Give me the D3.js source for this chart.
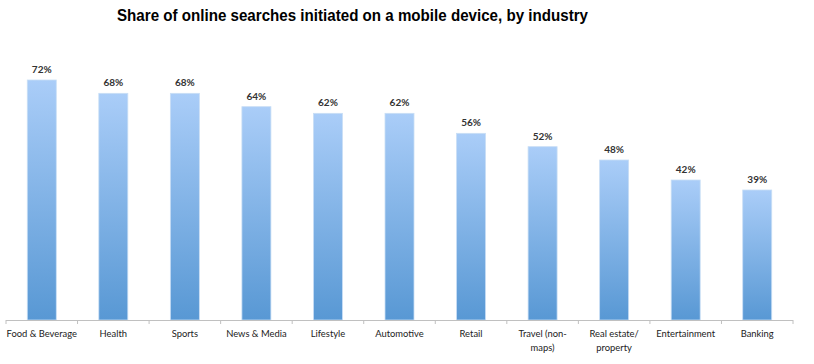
<!DOCTYPE html>
<html>
<head>
<meta charset="utf-8">
<script src="https://cdn.jsdelivr.net/npm/d3@7"></script>
<style>
  body { margin: 0; background: #fff; }
</style>
</head>
<body>
<div id="content"></div>
<script>
'use strict';

var categories = [
    ['Food & Beverage'], ['Health'], ['Sports'], ['News & Media'], ['Lifestyle'],
    ['Automotive'], ['Retail'], ['Travel (non-', 'maps)'], ['Real estate/', 'property'],
    ['Entertainment'], ['Banking']
];
var values = [72, 68, 68, 64, 62, 62, 56, 52, 48, 42, 39];
var title = 'Share of online searches initiated on a mobile device, by industry';

function run() {
    var width = 814, height = 364;

    var svg = d3.select('#content')
        .append('svg')
        .attr('width', width)
        .attr('height', height);

    var defs = svg.append('defs');
    var grad = defs.append('linearGradient')
        .attr('id', 'barGrad')
        .attr('x1', 0).attr('y1', 0).attr('x2', 0).attr('y2', 1);
    grad.append('stop').attr('offset', '0%').attr('stop-color', '#aacdf8');
    grad.append('stop').attr('offset', '100%').attr('stop-color', '#5898d4');

    var keys = categories.map(function (d, i) { return i; });

    var x = d3.scaleBand()
        .domain(keys)
        .range([6, 793])
        .paddingInner(0)
        .paddingOuter(0);

    var y = d3.scaleLinear()
        .domain([0, 72])
        .range([320, 80]);

    var barW = 29;

    // title is narrow-ish bold sans in the original, squeeze to its width
    svg.append('text')
        .attr('x', 117)
        .attr('y', 21)
        .attr('textLength', 471)
        .attr('lengthAdjust', 'spacingAndGlyphs')
        .style('font', 'bold 16.5px "Liberation Sans", Arial, sans-serif')
        .style('fill', '#000')
        .text(title);

    svg.selectAll('.bar')
        .data(values)
        .enter()
        .append('rect')
        .attr('class', 'bar')
        .attr('x', function (d, i) { return x(i) + x.bandwidth() / 2 - barW / 2; })
        .attr('y', function (d) { return y(d); })
        .attr('width', barW)
        .attr('height', function (d) { return y(0) - y(d); })
        .style('fill', 'url(#barGrad)')
        .style('stroke', '#c9def5')
        .style('stroke-width', 0.8);

    svg.selectAll('.val')
        .data(values)
        .enter()
        .append('text')
        .attr('class', 'val')
        .attr('x', function (d, i) { return x(i) + x.bandwidth() / 2; })
        .attr('y', function (d) { return y(d) - 7; })
        .attr('text-anchor', 'middle')
        .style('font', 'bold 10px Lato, "Open Sans", sans-serif')
        .style('fill', '#333')
        .text(function (d) { return d + '%'; });

    var axis = svg.append('g')
        .attr('transform', 'translate(0 320)')
        .call(d3.axisBottom(x).tickSize(0).tickFormat(''));
    axis.select('.domain').attr('stroke', '#c0c0c0').attr('d', 'M6,0.5H793');

    var bounds = keys.map(function (i) { return x(i); }).concat([x(keys.length - 1) + x.bandwidth()]);
    axis.selectAll('.bound')
        .data(bounds)
        .enter()
        .append('line')
        .attr('class', 'bound')
        .attr('x1', function (d) { return d; })
        .attr('x2', function (d) { return d; })
        .attr('y1', 0)
        .attr('y2', 4)
        .attr('stroke', '#c0c0c0');

    var lab = svg.selectAll('.cat')
        .data(categories)
        .enter()
        .append('text')
        .attr('class', 'cat')
        .attr('x', function (d, i) { return x(i) + x.bandwidth() / 2; })
        .attr('y', 337)
        .attr('text-anchor', 'middle')
        .style('font', '9.4px Lato, "Open Sans", sans-serif')
        .style('fill', '#222');
    lab.selectAll('tspan')
        .data(function (d) { return d; })
        .enter()
        .append('tspan')
        .attr('x', function () { return d3.select(this.parentNode).attr('x'); })
        .attr('dy', function (d, j) { return j === 0 ? 0 : 14; })
        .text(function (d) { return d; });
}

document.addEventListener('DOMContentLoaded', run);
</script>
</body>
</html>
